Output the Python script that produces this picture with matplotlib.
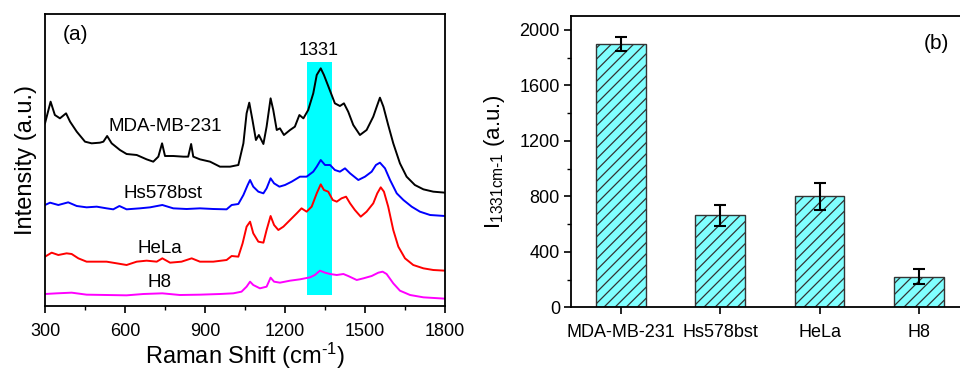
import matplotlib
matplotlib.use("Agg")
import matplotlib.pyplot as plt
from matplotlib.ticker import MultipleLocator

plt.rcParams['font.family'] = ['Liberation Sans', 'DejaVu Sans']
plt.rcParams['hatch.linewidth'] = 0.9
plt.rcParams['mathtext.fontset'] = 'custom'
plt.rcParams['mathtext.rm'] = 'Liberation Sans'
plt.rcParams['mathtext.it'] = 'Liberation Sans'

# ---------------- Panel (a) data: Raman spectra (offset, a.u.) ----------------
mda_x = [300, 321, 337, 356, 379, 394, 419, 450, 475, 506, 519, 533, 550, 581, 606, 644, 681, 706, 725, 739,
         750, 781, 819, 837, 848, 856, 881, 919, 956, 994, 1025, 1044, 1056, 1066, 1078, 1091, 1102, 1119,
         1131, 1146, 1156, 1169, 1181, 1196, 1219, 1237, 1254, 1269, 1287, 1306, 1319, 1334, 1346, 1362,
         1375, 1387, 1406, 1421, 1437, 1456, 1481, 1506, 1531, 1544, 1556, 1569, 1587, 1606, 1631, 1656,
         1687, 1719, 1756, 1800]
mda_y = [548, 613, 573, 563, 578, 553, 523, 493, 488, 490, 493, 510, 488, 468, 456, 453, 440, 433, 448, 488,
         450, 450, 448, 448, 486, 448, 440, 433, 418, 418, 423, 488, 578, 610, 558, 498, 513, 486,
         538, 623, 588, 528, 533, 513, 528, 538, 573, 563, 588, 638, 693, 713, 693, 660,
         633, 608, 600, 608, 583, 543, 513, 528, 568, 598, 625, 598, 543, 488, 428, 388,
         363, 350, 343, 340]

hs_x = [300, 319, 350, 387, 419, 456, 494, 531, 556, 579, 606, 656, 694, 740, 781, 831, 881, 931, 981, 1000,
        1025, 1044, 1060, 1069, 1081, 1100, 1119, 1131, 1146, 1159, 1179, 1200, 1225, 1256, 1281, 1306,
        1319, 1334, 1350, 1369, 1387, 1406, 1425, 1444, 1475, 1500, 1525, 1541, 1556, 1575, 1594, 1619,
        1644, 1675, 1706, 1744, 1800]
hs_y = [303, 310, 303, 311, 300, 296, 298, 293, 290, 300, 290, 293, 296, 303, 293, 291, 293, 291, 290, 303,
        306, 333, 363, 378, 358, 343, 338, 353, 383, 368, 358, 363, 373, 388, 388, 403,
        418, 438, 423, 423, 408, 403, 413, 398, 378, 388, 403, 423, 430, 413, 378, 338,
        318, 298, 283, 273, 270]

hela_x = [300, 325, 350, 381, 400, 425, 456, 494, 531, 569, 606, 644, 681, 719, 740, 769, 812, 850, 881, 931,
          981, 1000, 1025, 1041, 1056, 1069, 1081, 1100, 1119, 1131, 1146, 1159, 1175, 1194, 1219, 1244,
          1262, 1281, 1300, 1319, 1334, 1346, 1362, 1379, 1394, 1412, 1429, 1444, 1462, 1484, 1506, 1531,
          1546, 1559, 1571, 1587, 1606, 1625, 1650, 1681, 1719, 1756, 1800]
hela_y = [148, 160, 153, 158, 156, 143, 133, 133, 133, 128, 123, 133, 136, 133, 143, 130, 133, 143, 133, 133,
          138, 150, 148, 188, 238, 253, 218, 193, 190, 228, 270, 243, 228, 238, 258, 278,
          293, 283, 298, 338, 365, 348, 343, 318, 313, 323, 328, 308, 288, 268, 283, 308,
          338, 356, 343, 298, 228, 178, 143, 123, 113, 108, 106]

h8_x = [300, 344, 400, 456, 531, 606, 669, 740, 806, 881, 956, 1006, 1037, 1056, 1069, 1081, 1106, 1131, 1146,
        1159, 1181, 1219, 1256, 1294, 1312, 1331, 1350, 1369, 1394, 1419, 1437, 1469, 1494, 1525, 1550,
        1566, 1581, 1606, 1631, 1669, 1719, 1800]
h8_y = [36, 38, 40, 34, 33, 32, 36, 38, 33, 34, 36, 38, 43, 58, 73, 63, 53, 58, 85,
        73, 70, 76, 80, 86, 93, 106, 100, 96, 93, 96, 90, 78, 83, 90, 100,
        103, 96, 68, 46, 33, 26, 22]

spectra_names = ["MDA-MB-231", "Hs578bst", "HeLa", "H8"]
band_range = [1284, 1375]
band_yrange = [34, 731]
band_label = "1331"

# ---------------- Panel (b) data ----------------
cells = ["MDA-MB-231", "Hs578bst", "HeLa", "H8"]
intensity_1331 = [1900, 662, 800, 220]
intensity_err = [52, 78, 97, 55]

fig = plt.figure(figsize=(9.6, 3.71), dpi=100)

# ---------------- Panel (a) ----------------
axa = fig.add_axes([45 / 960, 1 - 306 / 371, 400 / 960, 292 / 371])
axa.plot(mda_x, mda_y, color='black', lw=1.4)
axa.plot(hs_x, hs_y, color='#0000ff', lw=1.4)
axa.plot(hela_x, hela_y, color='#ff0000', lw=1.4)
axa.plot(h8_x, h8_y, color='#ff00ff', lw=1.4)
axa.fill_between(band_range, band_yrange[0], band_yrange[1], color='#00ffff', lw=0, zorder=0)
axa.text(sum(band_range) / 2 - 5, 742, band_label, ha='center', va='bottom', fontsize=13)
axa.text(750, 540, spectra_names[0], ha='center', va='center', fontsize=13.5)
axa.text(741, 338, spectra_names[1], ha='center', va='center', fontsize=13.5)
axa.text(731, 173, spectra_names[2], ha='center', va='center', fontsize=13.5)
axa.text(731, 70, spectra_names[3], ha='center', va='center', fontsize=13.5)
axa.text(0.045, 0.93, "(a)", transform=axa.transAxes, ha='left', va='center', fontsize=15)
axa.set_xlim(300, 1800)
axa.set_ylim(0, 876)
axa.set_xticks([300, 600, 900, 1200, 1500, 1800])
axa.xaxis.set_minor_locator(MultipleLocator(150))
axa.set_yticks([])
axa.tick_params(axis='x', which='major', direction='out', length=5, width=1.2, labelsize=13, pad=7)
axa.tick_params(axis='x', which='minor', direction='out', length=3, width=1.0)
axa.set_xlabel(r"Raman Shift (cm$^{\mathregular{\text{-}1}}$)", fontsize=17, labelpad=1)
axa.set_ylabel("Intensity (a.u.)", fontsize=17, labelpad=6)
for s in axa.spines.values():
    s.set_linewidth(1.3)

# ---------------- Panel (b) ----------------
axb = fig.add_axes([571 / 960, 1 - 307.3 / 371, 397.7 / 960, 291.3 / 371])
xpos = list(range(len(cells)))
axb.bar(xpos, intensity_1331, width=0.5, color='#80ffff', edgecolor='#333333', lw=1.0, hatch='///')
axb.errorbar(xpos, intensity_1331, yerr=intensity_err, fmt='none', ecolor='black', elinewidth=1.5,
             capsize=4, capthick=1.5)
axb.set_xlim(-0.5, 3.5)
axb.set_ylim(0, 2100)
axb.set_xticks(xpos)
axb.set_xticklabels(cells)
axb.set_yticks([0, 400, 800, 1200, 1600, 2000])
axb.yaxis.set_minor_locator(MultipleLocator(200))
axb.tick_params(axis='x', which='major', direction='out', length=5, width=1.2, labelsize=13, pad=7)
axb.tick_params(axis='y', which='major', direction='out', length=5, width=1.2, labelsize=13, pad=3)
axb.tick_params(axis='y', which='minor', direction='out', length=3, width=1.0)
axb.set_ylabel(r"I$_{\mathregular{1331cm\text{-}1}}$ (a.u.)", fontsize=16, labelpad=9)
axb.text(3.18, 1900, "(b)", ha='center', va='center', fontsize=15)
axb.spines['right'].set_visible(False)
for s in axb.spines.values():
    s.set_linewidth(1.3)

fig.savefig("out.png", dpi=100)
